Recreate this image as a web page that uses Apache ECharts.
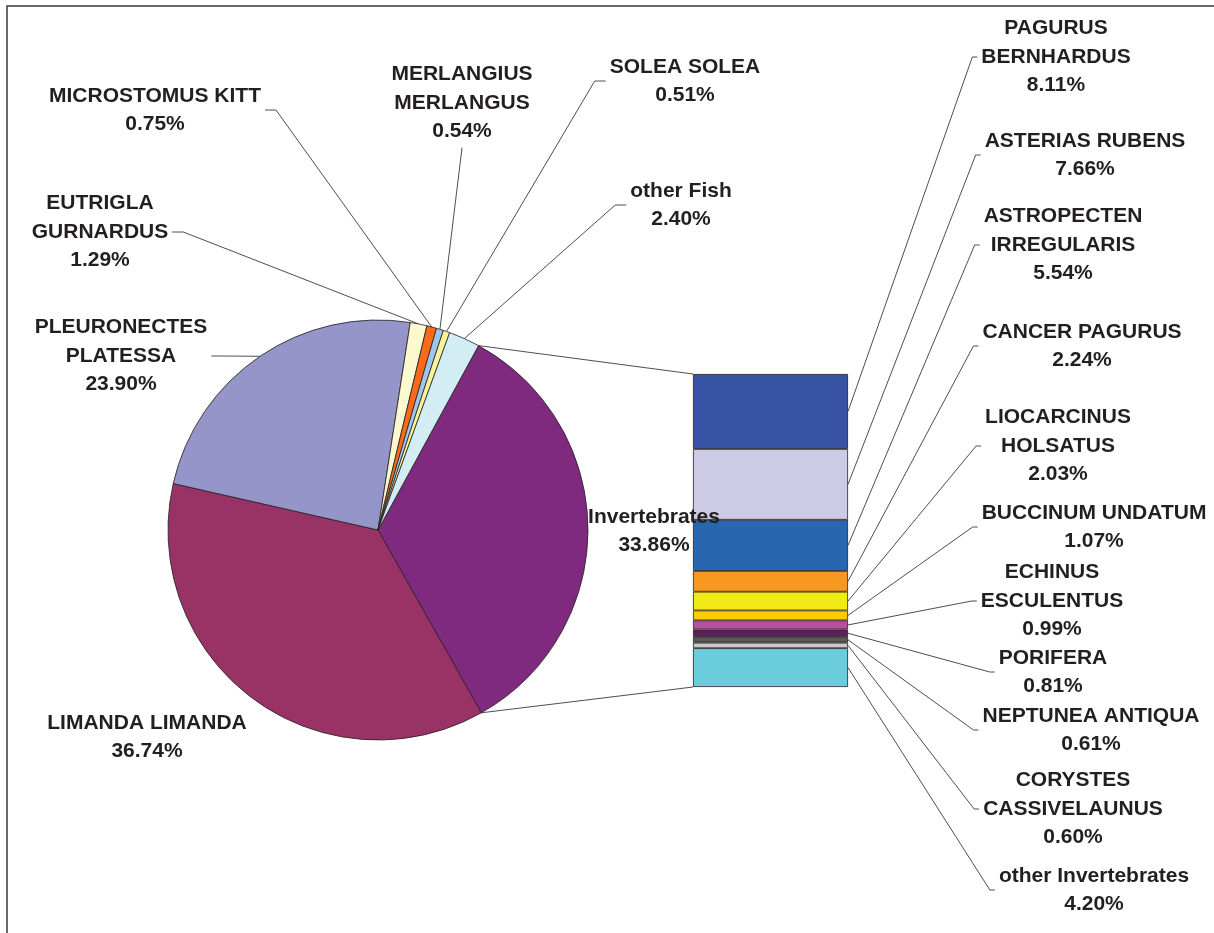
<!DOCTYPE html>
<html><head><meta charset="utf-8">
<script src="https://cdn.jsdelivr.net/npm/echarts@6/dist/echarts.min.js"></script>
<style>html,body{margin:0;padding:0;background:#fff}#c{width:1214px;height:933px}</style>
</head><body><div id="c"></div>
<script>
// ---- data ----
const pieNames = ['Invertebrates','LIMANDA LIMANDA','PLEURONECTES\nPLATESSA','EUTRIGLA\nGURNARDUS','MICROSTOMUS KITT','MERLANGIUS\nMERLANGUS','SOLEA SOLEA','other Fish'];
const pieValues = [33.86, 36.74, 23.90, 1.29, 0.75, 0.54, 0.51, 2.40];
const pieColors = ['#7F2A7F','#993366','#9595C9','#FDF9CF','#F96A1B','#9FC5E8','#FAF29A','#D3EDF4'];

const barNames = ['PAGURUS\nBERNHARDUS','ASTERIAS RUBENS','ASTROPECTEN\nIRREGULARIS','CANCER PAGURUS','LIOCARCINUS\nHOLSATUS','BUCCINUM UNDATUM','ECHINUS\nESCULENTUS','PORIFERA','NEPTUNEA ANTIQUA','CORYSTES\nCASSIVELAUNUS','other Invertebrates'];
const barValues = [8.11, 7.66, 5.54, 2.24, 2.03, 1.07, 0.99, 0.81, 0.61, 0.60, 4.20];
const barColors = ['#3953A4','#CDCAE6','#2966B0','#F7991F','#F1EA17','#FFCC00','#B84E9C','#5E1F5E','#5A5A5A','#C8C8C8','#6ACCDC'];

// ---- layout ----
const INK = '#231F20';
const FAMILY = '"Liberation Sans", Arial, sans-serif';
const FSIZE = 21;
const FONT = {fontFamily:FAMILY, fontWeight:'bold', fontSize:FSIZE, lineHeight:28.5, color:INK};
const PIE_CENTER = [378, 530], PIE_R = 210, START = 61.4;
const GRID = {left:693, top:374, width:155, height:313};
const pieLabelPos = [
  {x:654, y:531, side:'none'},
  {x:147, y:737, side:'none'},
  {x:121, y:356, side:'right'},
  {x:100, y:232, side:'right'},
  {x:155, y:110, side:'right'},
  {x:462, y:103, side:'bottom'},
  {x:685, y:81,  side:'left'},
  {x:681, y:205, side:'left'}
];
const barLabelPos = [
  {x:1056, y:57}, {x:1085, y:155}, {x:1063, y:245}, {x:1082, y:346}, {x:1058, y:446},
  {x:1094, y:527}, {x:1052, y:601}, {x:1053, y:672}, {x:1091, y:730}, {x:1073, y:809}, {x:1094, y:890}
];

function leaderPoints(anchor, pos, w, h) {
  if (!anchor || pos.side === 'none') return null;
  if (pos.side === 'right') {
    const ax = pos.x + w / 2 + 4;
    return [anchor, [ax + 11, pos.y], [ax, pos.y]];
  }
  if (pos.side === 'left') {
    const ax = pos.x - w / 2 - 4;
    return [anchor, [ax - 11, pos.y], [ax, pos.y]];
  }
  const ay = pos.y + h / 2 + 2;
  return [anchor, [pos.x, ay], [pos.x, ay]];
}

// text width measurement for leader attachment on the bar labels
const mctx = document.createElement('canvas').getContext('2d');
mctx.font = 'bold ' + FSIZE + 'px ' + FAMILY;
function textWidth(s) { return Math.max.apply(null, s.split('\n').map(t => mctx.measureText(t).width)); }

const chart = echarts.init(document.getElementById('c'), null, {renderer:'canvas'});
const pieTotal = pieValues.reduce((a, b) => a + b, 0);
const invTotal = barValues.reduce((a, b) => a + b, 0);

const series = [{
  type:'pie', z:5,
  center: PIE_CENTER, radius: PIE_R, startAngle: START, clockwise: true,
  avoidLabelOverlap: false, animation:false,
  itemStyle: {borderColor: INK, borderWidth: 0.8},
  label: Object.assign({show:true, position:'outside',
    formatter: p => p.name + '\n' + p.value.toFixed(2) + '%'}, FONT),
  labelLine: {show:true, length:10, length2:10, smooth:false, lineStyle:{color:INK, width:0.8}},
  emphasis: {disabled:true},
  labelLayout: function (params) {
    const pos = pieLabelPos[params.dataIndex];
    const anchor = params.labelLinePoints ? params.labelLinePoints[0] : null;
    const pts = leaderPoints(anchor, pos, params.labelRect.width, params.labelRect.height);
    const o = {x:pos.x, y:pos.y, align:'center', verticalAlign:'middle', hideOverlap:false};
    if (pts) o.labelLinePoints = pts;
    return o;
  },
  data: pieNames.map((n, i) => ({
    name:n, value:pieValues[i], itemStyle:{color:pieColors[i]},
    labelLine: {show: pieLabelPos[i].side !== 'none'}
  }))
}];

barNames.forEach((n, i) => {
  series.push({
    type:'bar', name:n, stack:'inv', barWidth:'100%', animation:false,
    itemStyle:{color:barColors[i], borderColor:INK, borderWidth:0.8},
    label: Object.assign({show:true, position:'inside',
      formatter: p => p.seriesName + '\n' + p.value.toFixed(2) + '%'}, FONT),
    labelLine: {show:false},
    emphasis: {disabled:true},
    labelLayout: function (params) {
      const pos = barLabelPos[params.seriesIndex - 1];
      return {x:pos.x, y:pos.y, align:'center', verticalAlign:'middle'};
    },
    data:[barValues[i]]
  });
});

chart.setOption({
  backgroundColor:'#ffffff',
  animation:false,
  tooltip:{show:false},
  grid: Object.assign({containLabel:false}, GRID),
  xAxis: {type:'category', data:['Invertebrates'], show:false},
  yAxis: {type:'value', min:0, max:invTotal, inverse:true, show:false},
  series: series
});

// connectors between pie and bar, derived from data & scales
const a0 = START * Math.PI / 180;
const a1 = (START - 360 * pieValues[0] / pieTotal) * Math.PI / 180;
const p0 = [PIE_CENTER[0] + PIE_R * Math.cos(a0), PIE_CENTER[1] - PIE_R * Math.sin(a0)];
const p1 = [PIE_CENTER[0] + PIE_R * Math.cos(a1), PIE_CENTER[1] - PIE_R * Math.sin(a1)];
const yTop = chart.convertToPixel({yAxisIndex:0}, 0);
const yBot = chart.convertToPixel({yAxisIndex:0}, invTotal);
const barRight = GRID.left + GRID.width;

const graphics = [
  {type:'rect', shape:{x:7, y:6, width:1400, height:1200}, style:{fill:null, stroke:'#3a3a3a', lineWidth:1.5}, silent:true, z:0},
  {type:'line', shape:{x1:p0[0], y1:p0[1], x2:GRID.left, y2:yTop}, style:{stroke:INK, lineWidth:0.8}, silent:true, z:1},
  {type:'line', shape:{x1:p1[0], y1:p1[1], x2:GRID.left, y2:yBot}, style:{stroke:INK, lineWidth:0.8}, silent:true, z:1}
];
// bar leaders: from the middle of each segment's right edge to its label
let cum = 0;
barValues.forEach((v, i) => {
  const ym = chart.convertToPixel({yAxisIndex:0}, cum + v / 2);
  cum += v;
  const pos = barLabelPos[i];
  const ax = pos.x - textWidth(barNames[i]) / 2 - 4;
  graphics.push({type:'polyline', shape:{points:[[barRight, ym], [ax - 5, pos.y], [ax, pos.y]]},
    style:{stroke:INK, lineWidth:0.8, fill:null}, silent:true, z:1});
});
chart.setOption({graphic: graphics});
</script>
</body></html>
